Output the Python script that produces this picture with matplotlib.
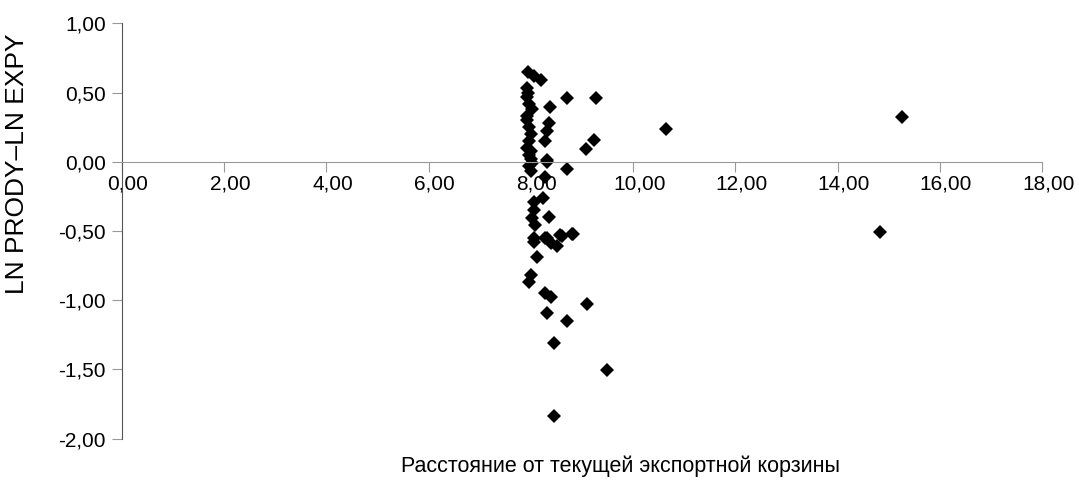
import matplotlib
matplotlib.use("Agg")
import matplotlib.pyplot as plt
from matplotlib.ticker import FixedLocator, FuncFormatter
import matplotlib.transforms as mtransforms

# distance from current export basket (x) and LN PRODY - LN EXPY (y)
dist = [7.95, 8.05, 8.20, 7.93, 7.95, 7.93, 7.97, 8.02, 7.93, 7.93, 7.97, 8.00, 7.97, 7.93,
        7.97, 8.00, 7.97,
        8.70, 9.28, 8.37, 8.35, 8.32, 9.24, 9.08, 8.28, 8.31, 8.00,
        8.02, 8.31, 8.70, 8.00, 8.27,
        8.06, 8.23, 8.06, 8.35, 8.02, 8.08, 8.06, 8.31, 8.60, 8.80,
        8.06, 8.27, 8.40, 8.50, 8.57, 8.83, 8.12, 8.00, 7.97, 8.27, 8.40, 9.10,
        8.32, 8.70, 8.45, 9.48, 8.45,
        10.64, 15.26, 14.83]
lnratio = [0.65, 0.62, 0.59, 0.53, 0.50, 0.47, 0.42, 0.38, 0.33, 0.30, 0.25, 0.20, 0.15, 0.10,
           0.05, 0.02, -0.03,
           0.46, 0.46, 0.395, 0.28, 0.22, 0.16, 0.094, 0.15, 0.015, 0.08,
           -0.01, 0.00, -0.05, -0.07, -0.11,
           -0.29, -0.26, -0.35, -0.40, -0.41, -0.46, -0.55, -0.55, -0.54, -0.52,
           -0.58, -0.55, -0.59, -0.61, -0.53, -0.52, -0.69, -0.82, -0.87, -0.95, -0.975, -1.03,
           -1.09, -1.15, -1.31, -1.505, -1.84,
           0.24, 0.32, -0.51]

x_ticks = [0, 2, 4, 6, 8, 10, 12, 14, 16, 18]
y_ticks = [1.0, 0.5, 0.0, -0.5, -1.0, -1.5, -2.0]
x_label = "Расстояние от текущей экспортной корзины"
y_label = "LN PRODY–LN EXPY"

plt.rcParams['font.family'] = ['Liberation Sans', 'DejaVu Sans']

fig = plt.figure(figsize=(10.79, 4.82), dpi=100)
ax = fig.add_axes([0.1131, 0.0902, 0.8527, 0.8614])
ax.set_xlim(0, 18)
ax.set_ylim(-2, 1)

ax.plot(dist, lnratio, linestyle='none', marker='D', markersize=7,
        color='black', markeredgewidth=0, clip_on=False)

for s in ['top', 'right']:
    ax.spines[s].set_visible(False)
ax.spines['left'].set_color('#555555')
ax.spines['bottom'].set_color('#999999')
ax.spines['bottom'].set_position(('data', 0))

fmt = FuncFormatter(lambda v, p: f"{v:.2f}".replace('.', ','))
ax.xaxis.set_major_locator(FixedLocator(x_ticks))
ax.yaxis.set_major_locator(FixedLocator(y_ticks))
ax.xaxis.set_major_formatter(fmt)
ax.yaxis.set_major_formatter(fmt)
ax.tick_params(axis='x', direction='out', length=7, color='#999999', labelsize=15, pad=2)
ax.tick_params(axis='y', direction='out', length=7, color='#999999', labelsize=15, pad=4.5)
offset = mtransforms.ScaledTranslation(6/100, 0, fig.dpi_scale_trans)
for lbl in ax.get_xticklabels():
    lbl.set_transform(lbl.get_transform() + offset)

fig.text(0.016, 0.66, y_label, fontsize=19, ha='center', va='center', rotation=90)
fig.text(0.5755, 0.033, x_label, fontsize=15.5, ha='center', va='center')

fig.savefig('out.png', dpi=100)
